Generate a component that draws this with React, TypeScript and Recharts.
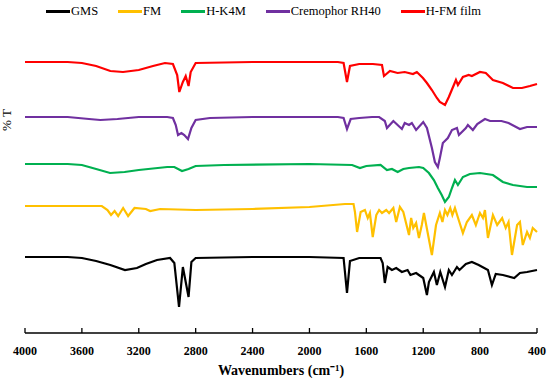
import { LineChart, Line, XAxis, YAxis } from 'recharts';

// wavenumber (cm-1), %T with the stacking offset already applied
const gms: [number, number][] = [
  [4000, 74], [3700, 74], [3600, 73], [3500, 70], [3400, 66], [3297, 61], [3213, 63], [3150, 67],
  [3072, 71], [2980, 73], [2950, 68], [2917, 24], [2890, 64], [2850, 34], [2830, 69], [2800, 73],
  [2400, 74], [2000, 74], [1760, 73], [1736, 38], [1715, 70], [1650, 73], [1500, 73], [1485, 68],
  [1470, 48], [1450, 64], [1420, 61], [1390, 63], [1350, 59], [1310, 61], [1290, 56], [1250, 58],
  [1200, 53], [1174, 36], [1160, 49], [1125, 59], [1104, 46], [1080, 59], [1047, 44], [1020, 61],
  [998, 56], [963, 64], [945, 61], [900, 67], [858, 69], [810, 66], [745, 61], [717, 46],
  [690, 57], [640, 56], [560, 53], [520, 58], [470, 59], [400, 61],
];

const fm: [number, number][] = [
  [4000, 125], [3700, 125], [3460, 125], [3420, 121], [3395, 116], [3370, 120], [3345, 115],
  [3310, 123], [3275, 115], [3230, 123], [3150, 122], [3120, 120], [3050, 122], [2800, 121],
  [2400, 122], [2000, 124], [1750, 127], [1690, 127], [1680, 119], [1665, 99], [1640, 119],
  [1610, 121], [1590, 113], [1575, 118], [1555, 94], [1530, 116], [1510, 121], [1490, 118],
  [1460, 121], [1440, 118], [1410, 123], [1390, 109], [1364, 124], [1340, 119], [1300, 96],
  [1285, 113], [1270, 103], [1250, 108], [1230, 93], [1210, 106], [1195, 118], [1139, 76],
  [1110, 106], [1083, 118], [1065, 109], [1047, 121], [1030, 116], [1010, 123], [995, 116],
  [977, 123], [955, 113], [921, 98], [893, 109], [858, 116], [830, 106], [801, 118], [780, 113],
  [766, 121], [745, 93], [710, 116], [680, 106], [645, 113], [620, 103], [600, 109], [576, 76],
  [540, 106], [520, 109], [500, 86], [470, 99], [450, 93], [430, 103], [400, 99],
];

const hk4m: [number, number][] = [
  [4000, 167], [3700, 167], [3600, 166], [3500, 162], [3402, 158], [3300, 159], [3200, 161],
  [3000, 164], [2950, 164], [2896, 160], [2850, 162], [2800, 165], [2600, 166], [2000, 167],
  [1700, 166], [1645, 163], [1600, 165], [1500, 166], [1455, 161], [1420, 162], [1380, 159],
  [1340, 162], [1300, 163], [1230, 164], [1200, 163], [1160, 158], [1125, 151], [1097, 143],
  [1070, 136], [1047, 129], [1020, 134], [998, 143], [977, 151], [956, 146], [921, 154],
  [872, 157], [801, 158], [710, 156], [640, 149], [569, 146], [470, 144], [400, 144],
];

const cremophor: [number, number][] = [
  [4000, 214], [3700, 214], [3550, 212], [3470, 211], [3350, 212], [3200, 214], [3000, 214],
  [2960, 213], [2940, 206], [2924, 196], [2900, 198], [2880, 196], [2854, 192], [2830, 203],
  [2800, 211], [2700, 213], [2400, 214], [2000, 214], [1800, 214], [1760, 213], [1736, 202],
  [1710, 212], [1650, 213], [1560, 214], [1510, 214], [1470, 210], [1455, 203], [1410, 210],
  [1350, 202], [1330, 208], [1300, 206], [1280, 208], [1250, 201], [1200, 209], [1174, 203],
  [1139, 183], [1118, 169], [1097, 164], [1083, 173], [1062, 188], [1027, 193], [998, 201],
  [963, 203], [949, 196], [900, 203], [886, 206], [851, 201], [820, 207], [766, 212], [730, 210],
  [650, 210], [600, 208], [520, 202], [470, 204], [400, 204],
];

const hfmFilm: [number, number][] = [
  [4000, 269], [3700, 269], [3600, 268], [3500, 265], [3400, 260], [3311, 259], [3200, 261],
  [3100, 265], [3016, 268], [2960, 267], [2930, 256], [2915, 239], [2890, 249], [2870, 255],
  [2850, 245], [2835, 259], [2800, 268], [2400, 269], [1800, 269], [1760, 268], [1736, 249],
  [1715, 265], [1650, 267], [1554, 267], [1490, 266], [1476, 255], [1434, 260], [1380, 258],
  [1330, 259], [1272, 257], [1245, 259], [1202, 253], [1174, 248], [1139, 241], [1104, 233],
  [1083, 229], [1047, 226], [1020, 234], [970, 251], [956, 246], [921, 254], [880, 256],
  [858, 255], [801, 259], [760, 258], [710, 251], [640, 248], [569, 243], [506, 243], [450, 245],
  [400, 247],
];

const xTicks = [4000, 3600, 3200, 2800, 2400, 2000, 1600, 1200, 800, 400];

const series = [
  { name: 'GMS', data: gms, color: '#000000' },
  { name: 'FM', data: fm, color: '#FFC000' },
  { name: 'H-K4M', data: hk4m, color: '#00B050' },
  { name: 'Cremophor RH40', data: cremophor, color: '#7030A0' },
  { name: 'H-FM film', data: hfmFilm, color: '#FF0000' },
];

const font = '"Liberation Serif", "Times New Roman", serif';

export default function App() {
  return (
    <div style={{ position: 'absolute', left: 0, top: 0, width: 550, height: 382, background: '#fff', fontFamily: font }}>
      <div style={{ position: 'absolute', left: 46, top: 4, display: 'flex', alignItems: 'center', gap: 20, fontSize: 12.5, color: '#000', whiteSpace: 'nowrap' }}>
        {series.map((s) => (
          <div key={s.name} style={{ display: 'flex', alignItems: 'center' }}>
            <span style={{ display: 'inline-block', width: 24, height: 3, background: s.color, marginRight: 1 }} />
            <span>{s.name}</span>
          </div>
        ))}
      </div>
      <LineChart width={550} height={382} margin={{ top: 31, right: 13, bottom: 0, left: 0 }}>
        <XAxis
          type="number"
          dataKey="w"
          domain={[400, 4000]}
          reversed
          ticks={xTicks}
          interval={0}
          allowDuplicatedCategory={false}
          height={49}
          stroke="#000"
          strokeWidth={1.3}
          tickSize={-5}
          tickMargin={18}
          tick={{ fontSize: 12, fontWeight: 'bold', fill: '#000', fontFamily: font }}
          label={{
            value: 'Wavenumbers (cm⁻¹)',
            position: 'insideBottom',
            offset: 7,
            style: { fontSize: 14, fontWeight: 'bold', fill: '#000', fontFamily: font },
          }}
        />
        <YAxis
          type="number"
          domain={[-2, 300]}
          width={25}
          tick={false}
          tickLine={false}
          axisLine={false}
          label={{
            content: () => (
              <text
                x={11}
                y={120}
                transform="rotate(-90 11 120)"
                textAnchor="middle"
                style={{ fontSize: 13, fill: '#000', fontFamily: font }}
              >
                % T
              </text>
            ),
          }}
        />
        {series.map((s) => (
          <Line
            key={s.name}
            name={s.name}
            data={s.data.map(([w, t]) => ({ w, t }))}
            dataKey="t"
            type="linear"
            stroke={s.color}
            strokeWidth={2.2}
            dot={false}
            activeDot={false}
            isAnimationActive={false}
          />
        ))}
      </LineChart>
    </div>
  );
}
